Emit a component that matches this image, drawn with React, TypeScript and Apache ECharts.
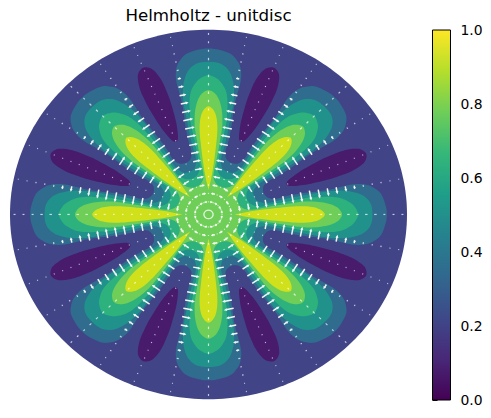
import React, { useEffect, useRef } from "react";
import * as echarts from "echarts";

const titleText = "Helmholtz - unitdisc";
const colorbarTicks = [0, 0.2, 0.4, 0.6, 0.8, 1];

// Petal outlines: [distance along the petal axis, half width], unit-disc coordinates
const bandColors = ["#2f6c8e", "#21918c", "#2db27d", "#6ece58", "#d0e11c"];
const tealBlueOutline = [[0.277,0.115],[0.3,0.09],[0.34,0.085],[0.393,0.1],[0.484,0.117],[0.55,0.125],[0.62,0.137],[0.7,0.158],[0.75,0.165],[0.799,0.16],[0.835,0.143],[0.871,0.109],[0.894,0.042],[0.898,0]];
const tealOutline = [[0.231,0.096],[0.25,0.07],[0.304,0.064],[0.393,0.086],[0.494,0.106],[0.6,0.125],[0.673,0.129],[0.727,0.122],[0.781,0.101],[0.817,0.059],[0.826,0]];
const greenOutline = [[0.194,0.08],[0.215,0.055],[0.26,0.042],[0.304,0.052],[0.393,0.069],[0.494,0.09],[0.529,0.092],[0.602,0.096],[0.664,0.089],[0.709,0.067],[0.736,0.042],[0.754,0]];
const lightGreenOutline = [[0.148,0.061],[0.17,0.036],[0.213,0.025],[0.304,0.042],[0.393,0.057],[0.45,0.066],[0.494,0.07],[0.556,0.068],[0.61,0.057],[0.646,0.04],[0.665,0.02],[0.673,0]];
const yellowOutline = [[0.132,0],[0.213,0.017],[0.304,0.03],[0.393,0.04],[0.44,0.044],[0.494,0.044],[0.538,0.037],[0.565,0.025],[0.58,0.012],[0.586,0]];
const bandOutlines = [tealBlueOutline, tealOutline, greenOutline, lightGreenOutline, yellowOutline];

const discColor = "#414487";
const lobeColor = "#481b6d";
const lobeOutline = [[0.425,0],[0.44,0.016],[0.5,0.035],[0.55,0.045],[0.6,0.052],[0.65,0.058],[0.7,0.06],[0.75,0.06],[0.8,0.052],[0.84,0.035],[0.86,0]];

// Arrow lengths (px) per ring
const ringRadii = [0.023,0.068,0.114,0.159,0.205,0.25,0.295,0.341,0.386,0.432,0.477,0.523,0.568,0.614,0.659,0.705,0.75,0.795,0.841,0.886,0.932,0.977];
const flankLengths = [1.5,3,4,5.5,7,7.5,8,8.5,9,9.5,10,10,9,8,7,5.5,3.5,2,1.5,1.5,1,1];
const petalAxisLengths = [1,1,1,1.5,1.5,1.5,1.5,1.5,1.5,1.5,1.5,2,2,2.5,2.5,2.5,2.5,2.5,2.5,2,2,2];
const valleyAxisLengths = [1,1,1,1,1,1,1,1,1,1,1,1,1,1,1,1,1,1,1,1,1,1];
const spokeCount = 32;

const viridisStops = ["#440154","#482878","#3e4989","#31688e","#26828e","#1f9e89","#35b779","#6ece58","#b5de2b","#fde725"];

type P = number[];

function spline(pts: P[], steps = 5): P[] {
  const out: P[] = [];
  for (let i = 0; i < pts.length - 1; i++) {
    const p0 = pts[Math.max(i - 1, 0)], p1 = pts[i], p2 = pts[i + 1], p3 = pts[Math.min(i + 2, pts.length - 1)];
    for (let s = 0; s < steps; s++) {
      const t = s / steps, t2 = t * t, t3 = t2 * t;
      out.push([0, 1].map((d) => 0.5 * (2 * p1[d] + (p2[d] - p0[d]) * t + (2 * p0[d] - 5 * p1[d] + 4 * p2[d] - p3[d]) * t2 + (3 * p1[d] - p0[d] - 3 * p2[d] + p3[d]) * t3)));
    }
  }
  out.push(pts[pts.length - 1]);
  return out;
}

function petal(outline: number[][], phi: number): P[] {
  const both = [...outline.map(([a, w]) => [a, -w]), ...outline.slice(0, -1).reverse().map(([a, w]) => [a, w])];
  const c = Math.cos(phi), s = Math.sin(phi);
  return spline(both).map(([a, w]) => [a * c - w * s, a * s + w * c]);
}

function star(outline: number[][]): P[] {
  const pts: P[] = [];
  for (let k = 0; k < 8; k++) pts.push(...petal(outline, (k * Math.PI) / 4));
  return pts;
}

function buildShapes(): { points: P[]; color: string }[] {
  const shapes: { points: P[]; color: string }[] = [];
  const circle: P[] = [];
  for (let i = 0; i < 256; i++) circle.push([Math.cos((i * Math.PI) / 128), Math.sin((i * Math.PI) / 128)]);
  shapes.push({ points: circle, color: discColor });
  for (let k = 0; k < 8; k++) shapes.push({ points: petal(lobeOutline, ((k + 0.5) * Math.PI) / 4), color: lobeColor });
  bandOutlines.forEach((o, i) => {
    if (i < bandOutlines.length - 1) shapes.push({ points: star(o), color: bandColors[i] });
    else for (let k = 0; k < 8; k++) shapes.push({ points: petal(o, (k * Math.PI) / 4), color: bandColors[i] });
  });
  return shapes;
}

function arrowData(): number[][] {
  const rows: number[][] = [];
  for (let i = 0; i < spokeCount; i++) {
    ringRadii.forEach((_, j) => {
      const len = i % 2 ? flankLengths[j] : i % 4 === 0 ? petalAxisLengths[j] : valleyAxisLengths[j];
      rows.push([j, i, len]);
    });
  }
  return rows;
}

export default function App() {
  const ref = useRef<HTMLDivElement>(null);
  useEffect(() => {
    document.body.style.margin = "0";
    const chart = echarts.init(ref.current!, undefined, { renderer: "svg" });
    const shapes = buildShapes();
    const font = "DejaVu Sans";
    chart.setOption({
      animation: false,
      backgroundColor: "#fff",
      title: {
        text: titleText, left: 203.5, top: 2, textAlign: "center",
        textStyle: { fontFamily: font, fontSize: 16.67, fontWeight: "normal", color: "#000" },
      },
      grid: [
        { left: 10, top: 29.7, width: 397, height: 369.5 },
        { left: 432.5, top: 30, width: 18, height: 370 },
      ],
      xAxis: [
        { type: "value", gridIndex: 0, min: -1, max: 1, show: false },
        { type: "value", gridIndex: 1, min: 0, max: 1, show: false },
      ],
      yAxis: [
        { type: "value", gridIndex: 0, min: -1, max: 1, show: false },
        {
          type: "value", gridIndex: 1, min: 0, max: 1, interval: 0.2, position: "right",
          splitLine: { show: false }, axisLine: { show: false },
          axisTick: { show: true, length: 5, lineStyle: { color: "#000", width: 1 } },
          axisLabel: { fontFamily: font, fontSize: 13.9, color: "#000", margin: 10, formatter: (v: number) => v.toFixed(1) },
          data: colorbarTicks,
        },
      ],
      series: [
        {
          type: "custom", xAxisIndex: 0, yAxisIndex: 0, clip: false, z: 2,
          data: shapes.map((_, i) => [i]),
          renderItem: (_p: any, api: any) => {
            const s = shapes[api.value(0)];
            return {
              type: "polygon",
              shape: { points: s.points.map((p) => api.coord(p)) },
              style: { fill: s.color },
            };
          },
        },
        {
          type: "custom", xAxisIndex: 0, yAxisIndex: 0, clip: false, z: 3,
          data: arrowData(),
          renderItem: (_p: any, api: any) => {
            const j = api.value(0), i = api.value(1), len = api.value(2);
            const r = ringRadii[j], th = (i * 2 * Math.PI) / spokeCount;
            const [cx, cy] = api.coord([r * Math.cos(th), r * Math.sin(th)]);
            let dx: number, dy: number;
            if (i % 2) {
              const sign = i % 4 === 1 ? -1 : 1;
              dx = -Math.sin(th) * sign; dy = -Math.cos(th) * sign;
            } else {
              const sign = (i % 4 === 0) === r > 0.5 ? -1 : 1;
              dx = Math.cos(th) * sign; dy = -Math.sin(th) * sign;
            }
            const px = -dy, py = dx;
            const at = (l: number, w: number) => [cx + dx * l + px * w, cy + dy * l + py * w];
            const h = len / 2;
            let pts: number[][];
            if (len < 3) {
              pts = [at(-h, -0.6), at(h, -0.6), at(h, 0.6), at(-h, 0.6)];
            } else {
              const hl = Math.min(3, len * 0.5), sw = 0.75, hw = 1.5;
              pts = [at(-h, -sw), at(h - hl, -sw), at(h - hl, -hw), at(h, 0), at(h - hl, hw), at(h - hl, sw), at(-h, sw)];
            }
            return { type: "polygon", shape: { points: pts }, style: { fill: "#fff", opacity: len < 3 ? 0.7 : 0.95 } };
          },
        },
        {
          type: "custom", xAxisIndex: 1, yAxisIndex: 1, clip: false, z: 2,
          data: [[0, 0, 1, 1]],
          renderItem: (_p: any, api: any) => {
            const a = api.coord([api.value(0), api.value(1)]);
            const b = api.coord([api.value(2), api.value(3)]);
            const n = viridisStops.length - 1;
            const stops = viridisStops.map((_c, i) => ({ offset: i / n, color: viridisStops[n - i] }));
            return {
              type: "rect",
              shape: { x: a[0], y: b[1], width: b[0] - a[0], height: a[1] - b[1] },
              style: {
                fill: new echarts.graphic.LinearGradient(0, 0, 0, 1, stops),
                stroke: "#000", lineWidth: 1,
              },
            };
          },
        },
      ],
    });
    return () => chart.dispose();
  }, []);
  return <div ref={ref} style={{ width: 491, height: 418 }} />;
}
